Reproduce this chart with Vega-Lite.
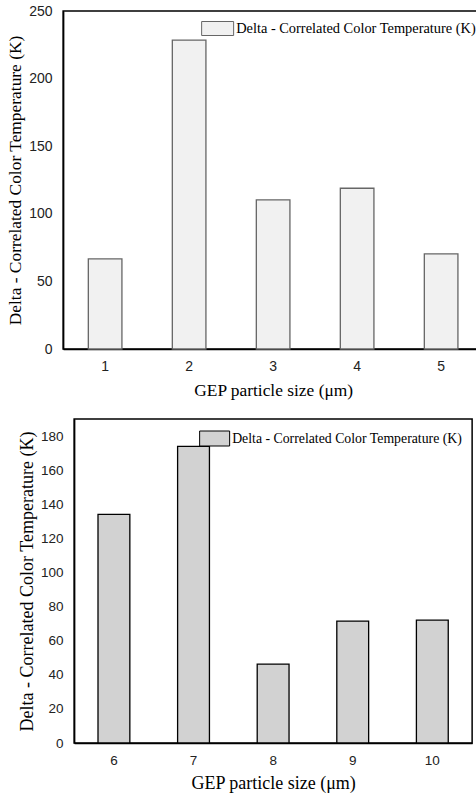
{
  "$schema": "https://vega.github.io/schema/vega-lite/v6.json",
  "padding": {"left": 6, "top": 3, "right": 0, "bottom": 0},
  "background": "white",
  "spacing": 18,
  "center": true,
  "config": {
    "view": {"stroke": "black", "strokeWidth": 1.5},
    "axis": {
      "domainColor": "black",
      "domainWidth": 1.5,
      "ticks": false,
      "grid": false,
      "labelFont": "Liberation Sans",
      "labelColor": "#222",
      "titleFont": "Liberation Serif",
      "titleFontWeight": "normal",
      "titleColor": "black"
    },
    "legend": {
      "labelFont": "Liberation Serif",
      "labelColor": "black",
      "labelLimit": 400
    }
  },
  "resolve": {"scale": {"fill": "independent"}, "legend": {"fill": "independent"}},
  "vconcat": [
    {
      "width": 420,
      "height": 338,
      "data": {"values": [
        {"size": 1, "delta": 66.6},
        {"size": 2, "delta": 228.5},
        {"size": 3, "delta": 110.3},
        {"size": 4, "delta": 118.9},
        {"size": 5, "delta": 70.3}
      ]},
      "mark": {"type": "bar", "stroke": "#666666", "strokeWidth": 1.3},
      "encoding": {
        "x": {
          "field": "size", "type": "ordinal",
          "scale": {"paddingInner": 0.6, "paddingOuter": 0.3},
          "axis": {"labelAngle": 0, "labelFontSize": 14, "labelPadding": 10, "title": "GEP particle size (μm)", "titleFontSize": 17.4, "titlePadding": 8}
        },
        "y": {
          "field": "delta", "type": "quantitative",
          "scale": {"domain": [0, 250], "nice": false},
          "axis": {"values": [0, 50, 100, 150, 200, 250], "labelFontSize": 14, "labelPadding": 11, "title": "Delta - Correlated Color Temperature (K)", "titleFontSize": 17.4, "titlePadding": 4}
        },
        "fill": {
          "datum": "Delta - Correlated Color Temperature (K)",
          "scale": {"range": ["#f1f1f1"]},
          "legend": {"title": null, "orient": "top-right", "offset": 7, "padding": 0, "symbolType": "M-1.6,-0.7H1.6V0.7H-1.6Z", "symbolSize": 400, "symbolStrokeColor": "#666666", "symbolStrokeWidth": 1, "labelFontSize": 14.4, "labelOffset": 8}
        }
      }
    },
    {
      "width": 398,
      "height": 324,
      "data": {"values": [
        {"size": 6, "delta": 134.1},
        {"size": 7, "delta": 174.0},
        {"size": 8, "delta": 46.3},
        {"size": 9, "delta": 71.5},
        {"size": 10, "delta": 72.0}
      ]},
      "mark": {"type": "bar", "stroke": "black", "strokeWidth": 1.3},
      "encoding": {
        "x": {
          "field": "size", "type": "ordinal",
          "scale": {"paddingInner": 0.6, "paddingOuter": 0.3},
          "axis": {"labelAngle": 0, "labelFontSize": 13.5, "labelPadding": 10, "title": "GEP particle size (μm)", "titleFontSize": 18, "titlePadding": 8}
        },
        "y": {
          "field": "delta", "type": "quantitative",
          "scale": {"domain": [0, 190], "nice": false},
          "axis": {"values": [0, 20, 40, 60, 80, 100, 120, 140, 160, 180], "labelFontSize": 13.5, "labelPadding": 11, "title": "Delta - Correlated Color Temperature (K)", "titleFontSize": 18, "titlePadding": 4}
        },
        "fill": {
          "datum": "Delta - Correlated Color Temperature (K)",
          "scale": {"range": ["#d2d2d2"]},
          "legend": {"title": null, "orient": "top-right", "offset": 9, "padding": 0, "symbolType": "M-1.5,-0.75H1.5V0.75H-1.5Z", "symbolSize": 400, "symbolStrokeColor": "black", "symbolStrokeWidth": 1, "labelFontSize": 13.8, "labelOffset": 7}
        }
      }
    }
  ]
}
